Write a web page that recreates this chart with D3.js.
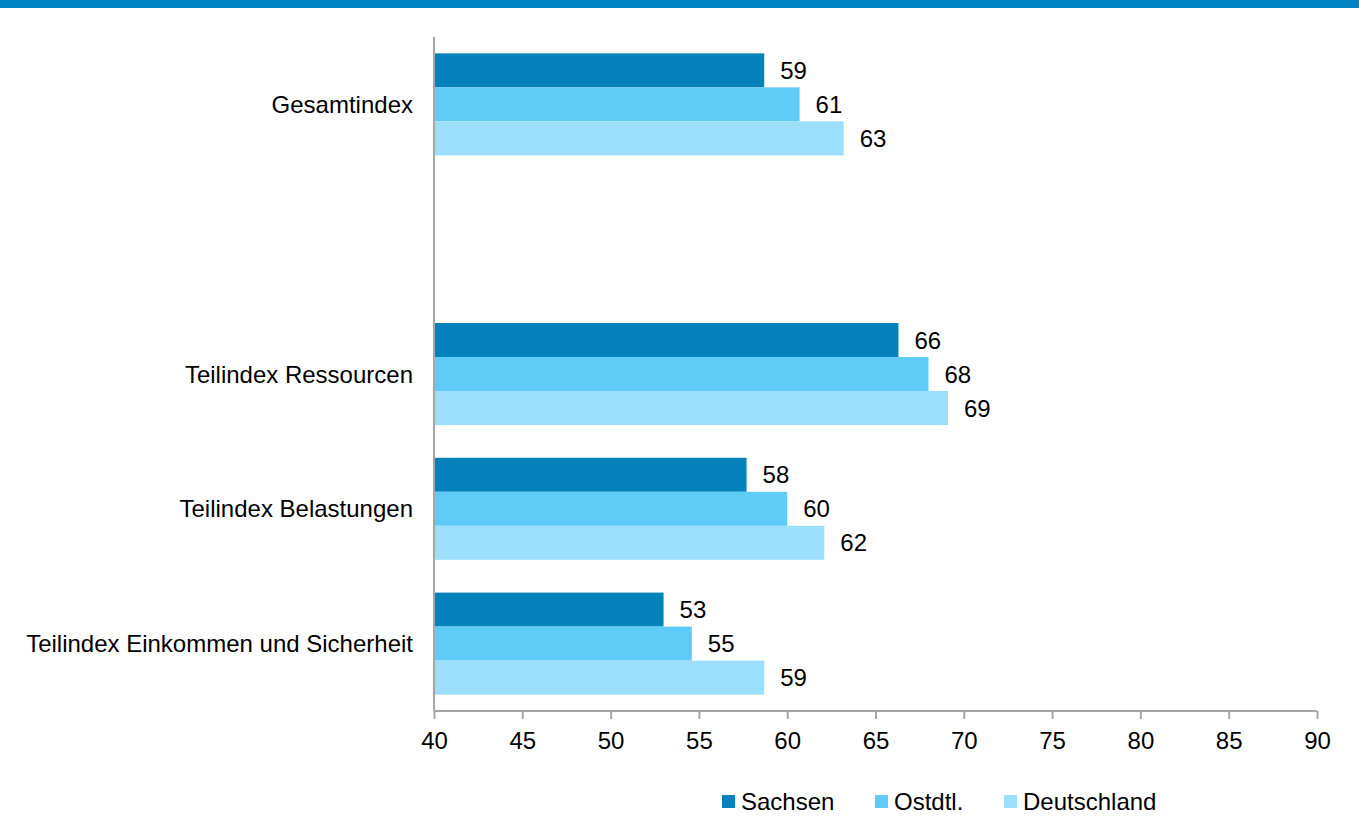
<!DOCTYPE html>
<html>
<head>
<meta charset="utf-8">
<script src="https://cdn.jsdelivr.net/npm/d3@7"></script>
<style>
  html, body { margin: 0; padding: 0; background: #fff; }
  svg { display: block; font-family: "Liberation Sans", Arial, sans-serif; }
</style>
</head>
<body>
<svg id="chart" width="1359" height="821"></svg>
<script>
// Categories top to bottom; the empty slot separates the overall index from the sub-indices
const categories = ["Gesamtindex", "", "Teilindex Ressourcen", "Teilindex Belastungen", "Teilindex Einkommen und Sicherheit"];
const seriesNames = ["Sachsen", "Ostdtl.", "Deutschland"];
const sachsen     = [58.7, null, 66.3, 57.7, 53.0];
const ostdtl      = [60.7, null, 68.0, 60.0, 54.6];
const deutschland = [63.2, null, 69.1, 62.1, 58.7];
const xTicks = [40, 45, 50, 55, 60, 65, 70, 75, 80, 85, 90];
const colors = ["#0582BC", "#5FCBF9", "#9BDFFC"];

(function draw() {
  const svg = d3.select("#chart");
  const W = 1359;
  const fontSize = 24;

  // Header band
  svg.append("rect").attr("x", 0).attr("y", 0).attr("width", W).attr("height", 8).attr("fill", "#0083C5");

  const plotLeft = 434, plotRight = 1317, plotTop = 37, plotBottom = 711;

  const x = d3.scaleLinear().domain([40, 90]).range([plotLeft, plotRight]);
  const y = d3.scaleBand().domain(d3.range(categories.length)).range([plotTop, plotBottom])
    .paddingInner(0.243).paddingOuter(0.1215);
  const ySub = d3.scaleBand().domain(d3.range(seriesNames.length)).range([0, y.bandwidth()]);

  const series = [sachsen, ostdtl, deutschland];
  const rows = [];
  series.forEach((vals, si) => vals.forEach((v, ci) => { if (v != null) rows.push({ si, ci, v }); }));

  const g = svg.append("g");
  g.selectAll("rect.bar").data(rows).join("rect")
    .attr("class", "bar")
    .attr("x", x(40))
    .attr("y", d => y(d.ci) + ySub(d.si))
    .attr("width", d => x(d.v) - x(40))
    .attr("height", ySub.bandwidth())
    .attr("fill", d => colors[d.si]);

  g.selectAll("text.val").data(rows).join("text")
    .attr("class", "val")
    .attr("x", d => x(d.v) + 16)
    .attr("y", d => y(d.ci) + ySub(d.si) + ySub.bandwidth() / 2)
    .attr("dy", "0.36em")
    .attr("font-size", fontSize)
    .attr("fill", "#000")
    .text(d => d3.format(".0f")(d.v));

  // Category labels
  svg.selectAll("text.cat").data(categories).join("text")
    .attr("class", "cat")
    .attr("x", 413)
    .attr("y", (d, i) => y(i) + y.bandwidth() / 2)
    .attr("dy", "0.36em")
    .attr("text-anchor", "end")
    .attr("font-size", fontSize)
    .attr("fill", "#000")
    .text(d => d);

  // Axes
  const axisColor = "#A6A6A6";
  svg.append("line").attr("x1", plotLeft).attr("x2", plotLeft).attr("y1", plotTop).attr("y2", plotBottom)
    .attr("stroke", axisColor).attr("stroke-width", 2);

  const xAxis = svg.append("g").attr("transform", `translate(0,${plotBottom})`)
    .call(d3.axisBottom(x).tickValues(xTicks).tickSize(8).tickPadding(13).tickFormat(d3.format("d")));
  xAxis.select(".domain").attr("stroke", axisColor).attr("stroke-width", 2).attr("d", `M${plotLeft},0H${plotRight}`);
  xAxis.selectAll(".tick line").attr("stroke", axisColor).attr("stroke-width", 2);
  xAxis.selectAll(".tick text").attr("font-size", fontSize).attr("fill", "#000")
    .attr("font-family", "Liberation Sans, Arial, sans-serif");

  // Legend
  const legendX = [722, 875, 1004];
  const legend = svg.append("g");
  seriesNames.forEach((name, i) => {
    legend.append("rect").attr("x", legendX[i]).attr("y", 795).attr("width", 13).attr("height", 13).attr("fill", colors[i]);
    legend.append("text").attr("x", legendX[i] + 19).attr("y", 801).attr("dy", "0.36em")
      .attr("font-size", fontSize).attr("fill", "#000").text(name);
  });
})();
</script>
</body>
</html>
